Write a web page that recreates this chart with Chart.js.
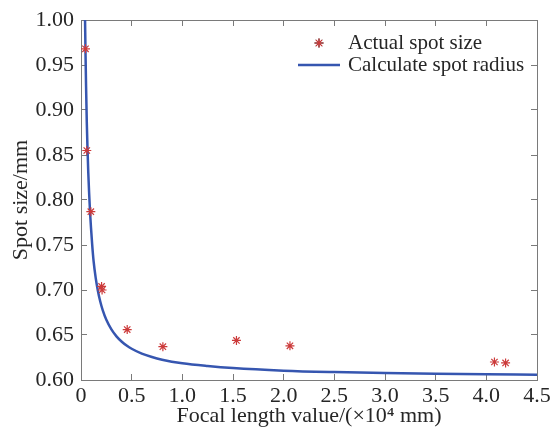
<!DOCTYPE html>
<html><head><meta charset="utf-8">
<script src="https://cdn.jsdelivr.net/npm/chart.js@4/dist/chart.umd.min.js"></script>
<style>html,body{margin:0;padding:0;background:#fff}#wrap{width:551px;height:427px}</style>
</head><body><div id="wrap"><canvas id="c" width="551" height="427"></canvas></div>
<script>
// ---- data ----
const actualX = [0.044, 0.057, 0.097, 0.203, 0.208, 0.456, 0.808, 1.534, 2.062, 4.080, 4.190];
const actualY = [0.968, 0.855, 0.787, 0.704, 0.700, 0.656, 0.637, 0.644, 0.638, 0.620, 0.619];
const calcX = [0.040, 0.045, 0.050, 0.057, 0.064, 0.072, 0.080, 0.090, 0.100, 0.110, 0.124, 0.145, 0.166, 0.190, 0.215, 0.250, 0.300, 0.350, 0.400, 0.450, 0.500, 0.600, 0.700, 0.800, 1.000, 1.250, 1.500, 2.000, 2.500, 3.000, 3.500, 4.000, 4.500];
const calcY = [1.000, 0.960, 0.926, 0.887, 0.858, 0.830, 0.808, 0.785, 0.767, 0.751, 0.7323, 0.7135, 0.6995, 0.6872, 0.6774, 0.6669, 0.6562, 0.6485, 0.6428, 0.6383, 0.6347, 0.6293, 0.6255, 0.6226, 0.6186, 0.6155, 0.6132, 0.6104, 0.6088, 0.6077, 0.6069, 0.6063, 0.6058];
const xTicks = [0, 0.5, 1.0, 1.5, 2.0, 2.5, 3.0, 3.5, 4.0, 4.5];
const yTicks = [0.60, 0.65, 0.70, 0.75, 0.80, 0.85, 0.90, 0.95, 1.00];
const seriesLabels = ['Actual spot size', 'Calculate spot radius'];
const xTitle = 'Focal length value/(\u00d710\u2074 mm)';
const yTitle = 'Spot size/mm';

const FONT = '"Liberation Serif", "Times New Roman", serif';
const TXT = '#262626';
const AX = '#7a7a7a';
const RED = '#cc3a3a';
const BLUE = '#3656b0';

const toPts = (xs, ys) => xs.map((x, i) => ({x: x, y: ys[i]}));
const setTicks = arr => (s) => { s.ticks = arr.map(v => ({value: v})); };
const noPad = s => { s.paddingLeft = 0; s.paddingRight = 0; s.paddingTop = 0; s.paddingBottom = 0; };

const legendPlugin = {
  id: 'inlegend',
  afterDraw(chart) {
    const ctx = chart.ctx;
    ctx.save();
    ctx.font = '21px ' + FONT;
    ctx.fillStyle = TXT;
    ctx.textBaseline = 'middle';
    ctx.textAlign = 'left';
    const ds = chart.data.datasets;
    const sx = 298, sw = 42, tx = 348;
    const rows = [43, 65];
    Chart.helpers.drawPoint(ctx, {pointStyle: 'star', radius: 4.5, borderWidth: 1.2}, sx + sw / 2, rows[0]);
    ctx.strokeStyle = ds[0].borderColor;
    ctx.lineWidth = 1.2;
    ctx.stroke();
    ctx.fillText(ds[0].label, tx, rows[0]);
    ctx.beginPath();
    ctx.strokeStyle = ds[1].borderColor;
    ctx.lineWidth = 2.5;
    ctx.moveTo(sx, rows[1]);
    ctx.lineTo(sx + sw, rows[1]);
    ctx.stroke();
    ctx.fillText(ds[1].label, tx, rows[1]);
    ctx.restore();
  }
};

new Chart(document.getElementById('c'), {
  type: 'scatter',
  data: {
    datasets: [
      {
        label: seriesLabels[0],
        data: toPts(actualX, actualY),
        pointStyle: 'star',
        pointRadius: 4.5,
        pointBorderWidth: 1.2,
        borderColor: RED,
        backgroundColor: RED,
        showLine: false,
        order: 0
      },
      {
        label: seriesLabels[1],
        data: toPts(calcX, calcY),
        showLine: true,
        pointRadius: 0,
        borderColor: BLUE,
        backgroundColor: BLUE,
        borderWidth: 2.5,
        cubicInterpolationMode: 'monotone',
        order: 1
      }
    ]
  },
  options: {
    responsive: false,
    devicePixelRatio: 1,
    animation: false,
    layout: {padding: {left: 0, right: 14, top: 20, bottom: 0}},
    plugins: {legend: {display: false}, tooltip: {enabled: false}},
    scales: {
      x: {
        type: 'linear', position: 'bottom', min: 0, max: 4.5,
        afterBuildTicks: setTicks(xTicks),
        afterFit: s => { s.height = 47; noPad(s); },
        border: {display: true, color: AX, width: 1},
        grid: {drawOnChartArea: false, drawTicks: true, tickLength: -6, color: AX},
        ticks: {
          padding: 9, color: TXT, font: {family: FONT, size: 22},
          maxRotation: 0, autoSkip: false,
          callback: v => v === 0 ? '0' : v.toFixed(1)
        },
        title: {display: true, text: xTitle, color: TXT, font: {family: FONT, size: 22, lineHeight: 1.0}, padding: 0}
      },
      x2: {
        type: 'linear', position: 'top', min: 0, max: 4.5,
        afterBuildTicks: setTicks(xTicks),
        afterFit: s => { s.height = 0; noPad(s); },
        border: {display: true, color: AX, width: 1},
        grid: {drawOnChartArea: false, drawTicks: true, tickLength: -6, color: AX},
        ticks: {display: false}
      },
      y: {
        type: 'linear', position: 'left', min: 0.6, max: 1.0,
        afterBuildTicks: setTicks(yTicks),
        afterFit: s => { s.width = 81; noPad(s); },
        border: {display: true, color: AX, width: 1},
        grid: {drawOnChartArea: false, drawTicks: true, tickLength: -6, color: AX},
        ticks: {
          padding: 13, color: TXT, font: {family: FONT, size: 22},
          autoSkip: false,
          callback: v => v.toFixed(2)
        },
        title: {display: true, text: yTitle, color: TXT, font: {family: FONT, size: 22, lineHeight: 1.0}, padding: {top: 10, bottom: 0}}
      },
      y2: {
        type: 'linear', position: 'right', min: 0.6, max: 1.0,
        afterBuildTicks: setTicks(yTicks),
        afterFit: s => { s.width = 0; noPad(s); },
        border: {display: true, color: AX, width: 1},
        grid: {drawOnChartArea: false, drawTicks: true, tickLength: -6, color: AX},
        ticks: {display: false}
      }
    }
  },
  plugins: [legendPlugin]
});
</script>
</body></html>
